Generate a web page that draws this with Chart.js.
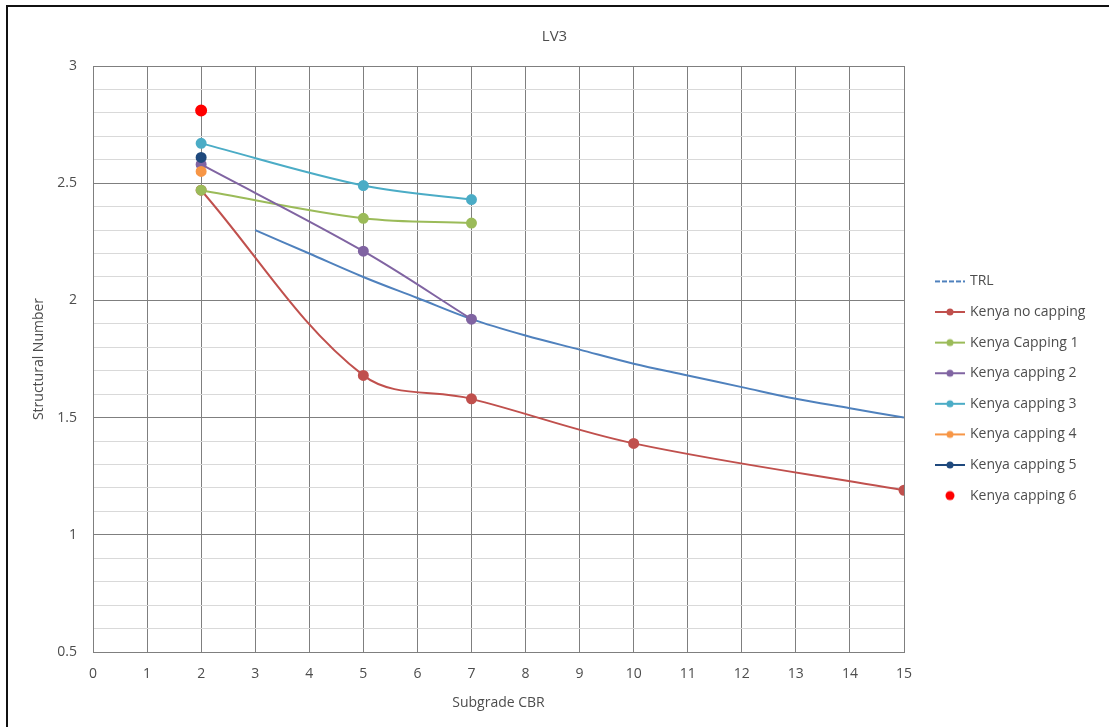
<!DOCTYPE html>
<html>
<head>
<meta charset="utf-8">
<script src="https://cdn.jsdelivr.net/npm/chart.js@4/dist/chart.umd.min.js"></script>
<style>
  html, body { margin: 0; padding: 0; background: #fff; }
  #wrap { position: relative; width: 1109px; height: 727px; }
  #frame { position: absolute; left: 6px; top: 5px; right: 0; bottom: 0;
           border-left: 2px solid #111; border-top: 2px solid #111; pointer-events: none; }
</style>
</head>
<body>
<div id="wrap">
  <canvas id="lv3_Chart" width="1109" height="727"></canvas>
  <div id="frame"></div>
</div>
<script>
// data
const trlX = [3, 4, 5, 6, 7, 8, 9, 10, 11, 12, 13, 14, 15];
const trlY = [2.30, 2.20, 2.10, 2.01, 1.92, 1.85, 1.79, 1.73, 1.68, 1.63, 1.58, 1.54, 1.50];

const noCapX = [2, 5, 7, 10, 15];
const noCapY = [2.47, 1.68, 1.58, 1.39, 1.19];

const capX = [2, 5, 7];
const cap1Y = [2.47, 2.35, 2.33];
const cap2Y = [2.58, 2.21, 1.92];
const cap3Y = [2.67, 2.49, 2.43];

const singleX = [2];
const cap4Y = [2.55];
const cap5Y = [2.61];
const cap6Y = [2.81];

const seriesNames = ['TRL', 'Kenya no capping', 'Kenya Capping 1', 'Kenya capping 2',
  'Kenya capping 3', 'Kenya capping 4', 'Kenya capping 5', 'Kenya capping 6'];
const seriesColors = ['#4F81BD', '#C0504D', '#9BBB59', '#8064A2', '#4BACC6', '#F79646', '#1F497D', '#FF0000'];

const pts = (xs, ys) => xs.map((x, i) => ({ x: x, y: ys[i] }));
const seriesData = [
  pts(trlX, trlY), pts(noCapX, noCapY), pts(capX, cap1Y), pts(capX, cap2Y),
  pts(capX, cap3Y), pts(singleX, cap4Y), pts(singleX, cap5Y), pts(singleX, cap6Y)
];

// legend icons: line + marker like Excel
function makeIcon(color, marker, line, dashed) {
  const c = document.createElement('canvas');
  c.width = 30; c.height = 12;
  const g = c.getContext('2d');
  if (line) {
    g.strokeStyle = color; g.lineWidth = 2;
    if (dashed) g.setLineDash([5, 2]);
    g.beginPath(); g.moveTo(0, 6); g.lineTo(30, 6); g.stroke();
  }
  if (marker) {
    g.fillStyle = color;
    g.beginPath(); g.arc(15, 6, marker, 0, Math.PI * 2); g.fill();
  }
  return c;
}
const icons = seriesColors.map((col, i) => {
  if (i === 0) return makeIcon(col, 0, true, true);
  if (i === 7) return makeIcon(col, 4.5, false, false);
  return makeIcon(col, 3.5, true, false);
});

const datasets = seriesNames.map((name, i) => ({
  label: name,
  data: seriesData[i],
  borderColor: seriesColors[i],
  backgroundColor: seriesColors[i],
  borderWidth: 2,
  tension: 0.35,
  showLine: i !== 7,
  pointRadius: i === 0 ? 0 : (i === 7 ? 5 : 4.5),
  pointHoverRadius: 5,
  order: 10 - i
}));

const textGray = '#4d4d4d';
const gridDark = '#7f7f7f';
const fontFam = '"Open Sans", sans-serif';
const isMajor = v => Math.abs(v * 2 - Math.round(v * 2)) < 1e-6;

const legendPlace = {
  id: 'legendPlace',
  beforeInit(chart) {
    const origFit = chart.legend.fit;
    chart.legend.fit = function () {
      origFit.bind(chart.legend)();
      this.width = 205;
    };
  },
  afterLayout(chart) {
    const lg = chart.legend;
    lg.left = 920.4; lg.right = 1109;
    lg.top += 25; lg.bottom += 25;
  }
};

const ctx_line = document.getElementById('lv3_Chart').getContext('2d');
const myChart = new Chart(ctx_line, {
  type: 'scatter',
  data: { datasets: datasets },
  plugins: [legendPlace],
  options: {
    responsive: false,
    animation: false,
    layout: { padding: 0 },
    plugins: {
      title: {
        display: true, text: 'LV3', color: textGray,
        font: { size: 15, weight: 'normal', family: fontFam },
        padding: { top: 28, bottom: 20 }
      },
      legend: {
        position: 'right',
        labels: {
          usePointStyle: true,
          pointStyleWidth: 26,
          padding: 16.6,
          color: textGray,
          font: { size: 14, family: fontFam },
          sort: (a, b) => a.datasetIndex - b.datasetIndex,
          generateLabels: chart => {
            const items = Chart.defaults.plugins.legend.labels.generateLabels(chart);
            items.forEach(it => { it.pointStyle = icons[it.datasetIndex]; });
            return items;
          }
        }
      },
      tooltip: { enabled: false }
    },
    scales: {
      x: {
        type: 'linear', min: 0, max: 15,
        afterFit: s => { s.height = 75; },
        ticks: { stepSize: 1, padding: 14, color: textGray,
                 font: { size: 14, family: fontFam } },
        grid: { color: gridDark, lineWidth: 1, drawTicks: false },
        border: { color: gridDark },
        title: { display: true, text: 'Subgrade CBR', color: textGray,
                 font: { size: 14, family: fontFam },
                 padding: { top: 0, bottom: 16 } }
      },
      y: {
        type: 'linear', min: 0.5, max: 3,
        afterFit: s => { s.width = 93; },
        afterBuildTicks: s => {
          const t = [];
          for (let k = 5; k <= 30; k++) t.push({ value: k / 10 });
          s.ticks = t;
        },
        ticks: {
          autoSkip: false, padding: 16, color: textGray,
          font: { size: 14, family: fontFam },
          callback: v => isMajor(v) ? String(Math.round(v * 10) / 10) : ''
        },
        grid: {
          drawTicks: false,
          color: c => isMajor(c.tick.value) ? gridDark : '#d9d9d9',
          lineWidth: 1
        },
        border: { color: gridDark },
        title: { display: true, text: 'Structural Number', color: textGray,
                 font: { size: 14, family: fontFam },
                 padding: { top: 31, bottom: 0 } }
      }
    }
  }
});
</script>
</body>
</html>
